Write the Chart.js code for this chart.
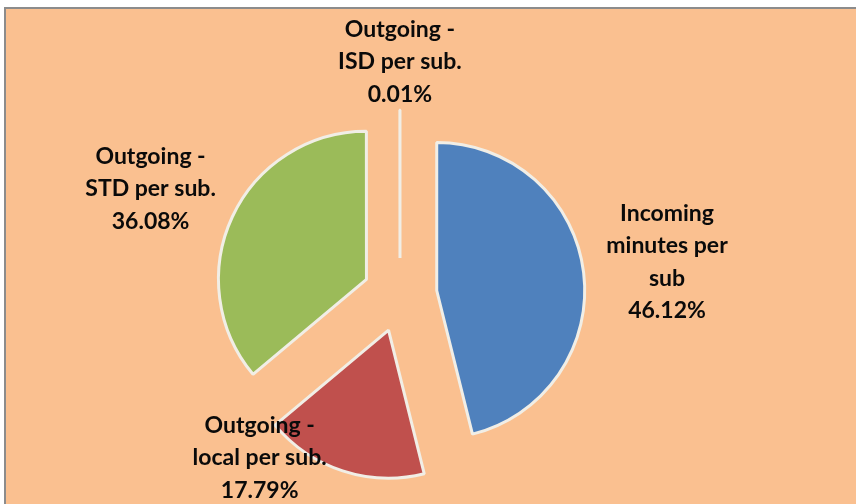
<!DOCTYPE html>
<html>
<head>
<meta charset="utf-8">
<script src="https://cdn.jsdelivr.net/npm/chart.js@4/dist/chart.umd.min.js"></script>
<style>
  html, body { margin: 0; padding: 0; background: #fff; }
  #frame {
    position: absolute; left: 4px; top: 7px; width: 852px; height: 497px;
    background: #FAC090; border-left: 2px solid #8c8c8c; border-top: 2px solid #8c8c8c;
  }
  #wrap { position: absolute; left: 0; top: 0; width: 856px; height: 504px; }
</style>
</head>
<body>
<div id="frame"></div>
<div id="wrap"><canvas id="pieChart" width="856" height="504"></canvas></div>
<script>
// ======================
// DATA
// ======================
const categories = [
  "Incoming minutes per sub",
  "Outgoing - local per sub.",
  "Outgoing - STD per sub.",
  "Outgoing - ISD per sub.",
];
const labelLines = [
  ["Incoming", "minutes per", "sub"],
  ["Outgoing -", "local per sub."],
  ["Outgoing -", "STD per sub."],
  ["Outgoing -", "ISD per sub."],
];
const shares = [46.12, 17.79, 36.08, 0.01];
const sliceColors = ["#4F81BD", "#C0504D", "#9BBB59", "#FAC090"];

// ======================
// PLUGINS
// ======================
const EXPLODE = 37;

// push each slice out along its bisector, keeping the radius
const explodePlugin = {
  id: "explode",
  afterDatasetUpdate(chart) {
    chart.getDatasetMeta(0).data.forEach((arc) => {
      const mid = (arc.startAngle + arc.endAngle) / 2;
      arc.x += Math.cos(mid) * EXPLODE;
      arc.y += Math.sin(mid) * EXPLODE;
    });
  },
};

// label spots: [angle tweak in degrees, distance from pie centre]
const labelSpots = [[0, 269], [22.7, 215], [-2, 271], [0, 233]];

const labelPlugin = {
  id: "sliceLabels",
  afterDatasetsDraw(chart) {
    const ctx = chart.ctx;
    const arcs = chart.getDatasetMeta(0).data;
    ctx.save();
    ctx.font = "bold 23px Lato";
    ctx.fillStyle = "#0a0a0a";
    ctx.textAlign = "center";
    ctx.textBaseline = "middle";
    arcs.forEach((arc, i) => {
      const mid = (arc.startAngle + arc.endAngle) / 2;
      const cx = arc.x - Math.cos(mid) * EXPLODE;
      const cy = arc.y - Math.sin(mid) * EXPLODE;
      const a = mid + (labelSpots[i][0] * Math.PI) / 180;
      const x = cx + Math.cos(a) * labelSpots[i][1];
      const y = cy + Math.sin(a) * labelSpots[i][1];
      const lines = labelLines[i].concat([shares[i].toFixed(2) + "%"]);
      const lh = 32.5;
      lines.forEach((t, k) => {
        ctx.fillText(t, x, y + (k - (lines.length - 1) / 2) * lh);
      });
    });
    ctx.restore();
  },
};

// ======================
// CHART
// ======================
new Chart(document.getElementById("pieChart").getContext("2d"), {
  type: "pie",
  data: {
    labels: categories,
    datasets: [
      {
        data: shares,
        backgroundColor: sliceColors,
        borderColor: "#F1EEE6",
        borderWidth: 3,
        radius: 148,
      },
    ],
  },
  options: {
    responsive: false,
    animation: false,
    events: [],
    layout: { padding: { left: 0, right: 56, top: 86, bottom: 0 } },
    plugins: { legend: { display: false }, tooltip: { enabled: false } },
  },
  plugins: [explodePlugin, labelPlugin],
});
</script>
</body>
</html>
